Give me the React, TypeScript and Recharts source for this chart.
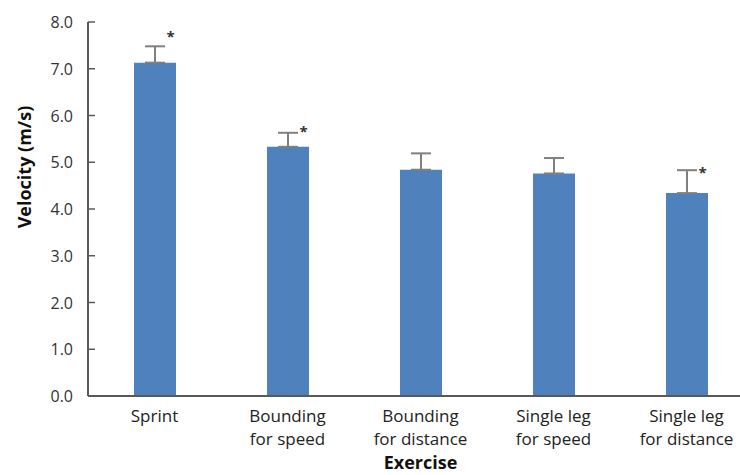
import { Bar, ComposedChart, ErrorBar, Label, Scatter, XAxis, YAxis } from 'recharts';

const exercises = [
  'Sprint',
  'Bounding\nfor speed',
  'Bounding\nfor distance',
  'Single leg\nfor speed',
  'Single leg\nfor distance',
];
const velocity = [7.13, 5.33, 4.84, 4.76, 4.34];
const errorUp = [0.35, 0.3, 0.35, 0.33, 0.49];
// height of the "*" marker for significant differences (null = none)
const starLevel: (number | null)[] = [7.74, 5.72, null, null, 4.83];
const yTicks = [0, 1, 2, 3, 4, 5, 6, 7, 8];

const data = exercises.map((name, i) => ({
  name,
  velocity: velocity[i],
  err: [0, errorUp[i]],
  star: starLevel[i],
}));

const FONT = '"Open Sans", sans-serif';
const AXIS = '#595959';

function YTick({ x, y, payload }: any) {
  return (
    <g>
      <line x1={x} x2={x + 7} y1={y} y2={y} stroke={AXIS} strokeWidth={1.5} />
      <text x={x - 15} y={y} dy={6} textAnchor="end" fontFamily={FONT} fontSize={16} fill="#333">
        {Number(payload.value).toFixed(1)}
      </text>
    </g>
  );
}

function XTick({ x, y, payload }: any) {
  const lines = String(payload.value).split('\n');
  return (
    <text x={x} y={y} textAnchor="middle" fontFamily={FONT} fontSize={17} fill="#222">
      {lines.map((l, i) => (
        <tspan key={i} x={x} dy={i === 0 ? 26 : 23}>
          {l}
        </tspan>
      ))}
    </text>
  );
}

function Star({ cx, cy }: any) {
  if (cx == null || cy == null) return <g />;
  return (
    <text x={cx + 16} y={cy + 8} textAnchor="middle" fontFamily={FONT} fontWeight="bold" fontSize={15} fill="#333">
      *
    </text>
  );
}

export default function App() {
  return (
    <div style={{ position: 'absolute', left: 0, top: 0, width: 740, height: 475, overflow: 'hidden', background: '#fff' }}>
      <ComposedChart width={760} height={475} data={data} margin={{ top: 22, right: 7, bottom: 0, left: 0 }}>
        <XAxis
          dataKey="name"
          height={79}
          axisLine={{ stroke: AXIS, strokeWidth: 2 }}
          tickLine={false}
          tickSize={0}
          tickMargin={0}
          tick={<XTick />}
          interval={0}
        >
          <Label
            content={({ viewBox }: any) => (
              <text
                x={viewBox.x + viewBox.width / 2}
                y={469}
                textAnchor="middle"
                fontFamily={FONT}
                fontWeight="bold"
                fontSize={18}
                fill="#111"
              >
                Exercise
              </text>
            )}
          />
        </XAxis>
        <YAxis
          width={88}
          domain={[0, 8]}
          ticks={yTicks}
          axisLine={{ stroke: AXIS, strokeWidth: 2 }}
          tickLine={false}
          tickSize={0}
          tickMargin={0}
          tick={<YTick />}
          interval={0}
        >
          <Label
            content={() => (
              <text
                x={24}
                y={167}
                transform="rotate(-90 24 167)"
                textAnchor="middle"
                dominantBaseline="central"
                fontFamily={FONT}
                fontWeight="bold"
                fontSize={18}
                fill="#111"
              >
                Velocity (m/s)
              </text>
            )}
          />
        </YAxis>
        <Bar dataKey="velocity" fill="#4f81bd" barSize={42} isAnimationActive={false}>
          <ErrorBar dataKey="err" width={10} stroke="#7f7f7f" strokeWidth={2} isAnimationActive={false} />
        </Bar>
        <Scatter dataKey="star" shape={<Star />} isAnimationActive={false} />
      </ComposedChart>
    </div>
  );
}
